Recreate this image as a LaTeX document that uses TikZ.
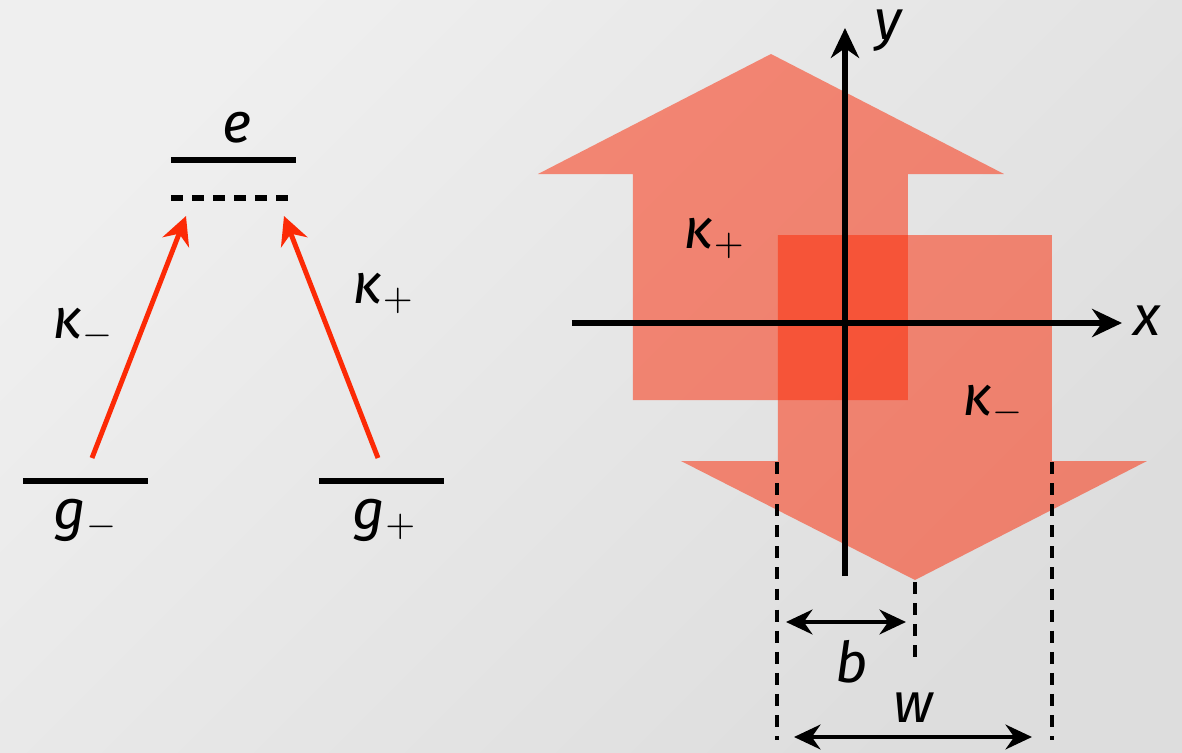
\documentclass[tikz,border=0pt]{standalone}
\usepackage{fontspec}
\setmainfont{Fira Sans}
\usetikzlibrary{arrows.meta}

\definecolor{laserred}{RGB}{252,42,6}
\definecolor{bgtop}{RGB}{239,239,239}
\definecolor{bgbottom}{RGB}{221,221,221}

\newcommand{\sublabel}[2]{\textit{#1}\raisebox{-2.2pt}{\fontsize{10.5}{10.5}\selectfont$#2$}}

\begin{document}
\begin{tikzpicture}[x=1cm, y=-1cm,
    level/.style={line width=1.6pt},
    virtual/.style={line width=1.6pt, dash pattern=on 3.4pt off 2.6pt},
    pump/.style={line width=1.4pt, laserred, -{Stealth[length=8pt, width=8pt]}},
    beam/.style={fill=laserred, fill opacity=0.52},
    axis/.style={line width=1.6pt, -{Stealth[length=8.5pt, width=8pt]}},
    guide/.style={line width=1.1pt, dash pattern=on 3.4pt off 2.6pt},
    dim/.style={line width=1.3pt, {Stealth[length=7.5pt, width=7pt]}-{Stealth[length=7.5pt, width=7pt]}},
    lbl/.style={font=\fontsize{16}{16}\selectfont\itshape, inner sep=0pt, anchor=base west}]

    % Background
    \useasboundingbox (0,0) rectangle (11.82,7.53);
    \shade[top color=bgtop, bottom color=bgbottom, shading angle=45] (0,0) rectangle (11.82,7.53);

    % Lambda scheme: levels
    \coordinate (eL) at (1.71,1.60);
    \coordinate (eR) at (2.96,1.60);
    \coordinate (vL) at (1.71,1.98);
    \coordinate (vR) at (2.90,1.98);
    \coordinate (gmL) at (0.23,4.81);
    \coordinate (gmR) at (1.48,4.81);
    \coordinate (gpL) at (3.19,4.81);
    \coordinate (gpR) at (4.44,4.81);
    \draw[level] (eL) -- (eR);
    \draw[virtual] (vL) -- (vR);
    \draw[level] (gmL) -- (gmR);
    \draw[level] (gpL) -- (gpR);

    \node[lbl] (elbl) at (2.22,1.42) {e};
    \node[lbl] (gmlbl) at (0.53,5.29) {\sublabel{g}{-}};
    \node[lbl] (gplbl) at (3.52,5.29) {\sublabel{g}{+}};

    % Lambda scheme: couplings
    \coordinate (pmFrom) at (0.92,4.58);
    \coordinate (pmTo) at (1.86,2.16);
    \coordinate (ppFrom) at (3.78,4.58);
    \coordinate (ppTo) at (2.84,2.16);
    \draw[pump] (pmFrom) -- (pmTo);
    \draw[pump] (ppFrom) -- (ppTo);
    \node[lbl] (kmlbl) at (0.52,3.38) {\sublabel{κ}{-}};
    \node[lbl] (kplbl) at (3.52,3.03) {\sublabel{κ}{+}};

    % Beams
    \fill[beam] (6.33,4.00) -- (6.33,1.74) -- (5.38,1.74) -- (7.71,0.54)
        -- (10.04,1.74) -- (9.08,1.74) -- (9.08,4.00) -- cycle;
    \fill[beam] (7.78,2.35) -- (10.52,2.35) -- (10.52,4.61) -- (11.47,4.61)
        -- (9.15,5.80) -- (6.81,4.61) -- (7.78,4.61) -- cycle;
    \node[lbl] (kpbeam) at (6.83,2.48) {\sublabel{κ}{+}};
    \node[lbl] (kmbeam) at (9.62,4.15) {\sublabel{κ}{-}};

    % Axes
    \coordinate (xFrom) at (5.72,3.23);
    \coordinate (xTo) at (11.22,3.23);
    \coordinate (yFrom) at (8.45,5.76);
    \coordinate (yTo) at (8.45,0.28);
    \draw[axis] (xFrom) -- (xTo);
    \draw[axis] (yFrom) -- (yTo);
    \node[lbl] (xlbl) at (11.33,3.35) {x};
    \node[lbl] (ylbl) at (8.74,0.39) {y};

    % Widths
    \coordinate (shaftL) at (7.77,4.62);
    \coordinate (shaftLend) at (7.77,7.40);
    \coordinate (shaftR) at (10.52,4.62);
    \coordinate (shaftRend) at (10.52,7.40);
    \coordinate (tip) at (9.15,5.82);
    \coordinate (tipend) at (9.15,6.62);
    \draw[guide] (shaftL) -- (shaftLend);
    \draw[guide] (shaftR) -- (shaftRend);
    \draw[guide] (tip) -- (tipend);

    \coordinate (bL) at (7.86,6.22);
    \coordinate (bR) at (9.06,6.22);
    \coordinate (wL) at (7.94,7.37);
    \coordinate (wR) at (10.32,7.37);
    \draw[dim] (bL) -- (bR);
    \draw[dim] (wL) -- (wR);
    \node[lbl] (blbl) at (8.35,6.82) {b};
    \node[lbl] (wlbl) at (8.93,7.22) {w};
\end{tikzpicture}
\end{document}
